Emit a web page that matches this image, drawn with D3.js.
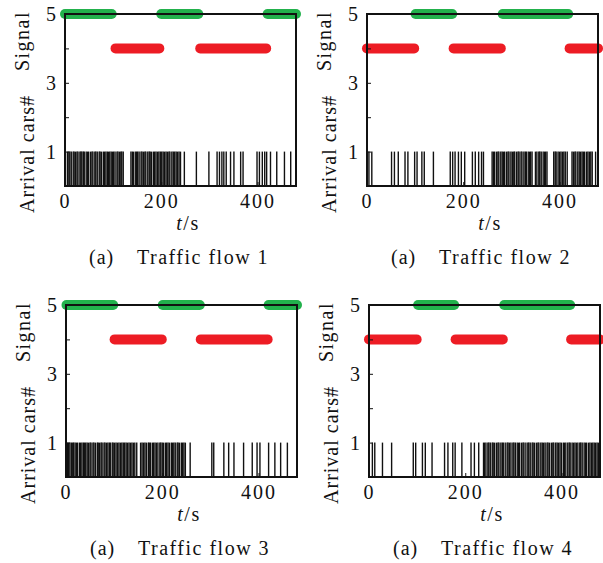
<!DOCTYPE html>
<html lang="en">
<head>
    <meta charset="UTF-8">
    <title>Traffic flow arrivals and signal phases</title>
    <style>
        body { margin: 0; background: #fff; }
        svg text { font-family: "Liberation Serif", "Times New Roman", serif; fill: #111; }
    </style>
</head>
<body>
    <svg id="chart" width="603" height="563"></svg>

    <script src="https://d3js.org/d3.v7.min.js"></script>
    <script>
        // data (time in s)
        const xTicks = [0, 200, 400];
        const yTicks = [1, 2, 3, 4, 5];
        const yTickLabels = [1, 3, 5];
        const titles = ["Traffic flow 1", "Traffic flow 2", "Traffic flow 3", "Traffic flow 4"];

        // signal phases: green drawn at 5, red drawn at 4
        const green1 = [[0, 97], [200, 277], [421, 480]];
        const red1 = [[105, 196], [281, 418]];
        const green2 = [[101, 177], [282, 418]];
        const red2 = [[0, 98], [180, 278], [421, 480]];
        const green3 = [[1, 98], [201, 278], [421, 480]];
        const red3 = [[101, 199], [280, 419]];
        const green4 = [[102, 177], [281, 418]];
        const red4 = [[0, 99], [180, 278], [420, 480]];

        // arrival instants (one car each)
        const arrivals1 = [5, 8, 10, 13, 17, 19, 22, 25, 27, 31, 33, 35, 38, 40, 44, 47, 49, 53, 56, 58, 62, 64, 67, 71, 73, 76, 80, 82, 85, 88, 90, 93, 96, 99, 101, 104, 108, 110, 113, 116, 118, 121,
            137, 140, 142, 146, 149, 151, 154, 158, 160, 163, 166, 168, 172, 175, 177, 180, 184, 186, 189, 192, 195, 198, 201, 204, 207, 210, 213, 216, 218, 222, 225, 228, 231, 234, 237, 240,
            248, 273, 299, 316, 321, 326, 330, 335, 344, 351, 365, 370, 399, 404, 410, 415, 419, 427, 440, 456, 469];
        const arrivals2 = [4, 10, 51, 57, 65, 79, 85, 99, 104, 114, 119, 138, 173, 178, 183, 190, 196, 203, 219, 225, 232, 238, 242,
            260, 263, 265, 269, 272, 274, 278, 281, 284, 286, 290, 293, 295, 299, 302, 305, 307, 311, 314, 316, 320, 322, 326, 329, 331, 335, 338, 340, 343,
            350, 353, 357, 359, 362, 366, 369, 371, 374,
            388, 391, 393, 397, 400, 403, 406, 409, 412, 416,
            426, 429, 432, 434, 438, 441, 444, 447, 450, 452, 456, 459, 462, 465, 468, 475];
        const arrivals3 = [3, 5, 8, 11, 14, 16, 19, 22, 24, 28, 30, 33, 36, 38, 41, 44, 47, 50, 52, 56, 58, 61, 65, 67, 70, 73, 75, 79, 81, 84, 87, 90, 92, 96, 98, 101, 104, 107, 110, 113, 116, 119, 122, 125, 128, 131, 134, 137, 140, 143, 147,
            155, 158, 161, 164, 167, 171, 173, 176, 180, 182, 185, 188, 191, 195, 197, 200, 203, 207, 209, 212, 215, 219, 221, 224, 227, 231, 233, 236, 240, 242, 245, 248,
            258, 303, 307, 328, 338, 349, 369, 387, 397, 403, 421, 434, 446, 460];
        const arrivals4 = [7, 12, 28, 47, 92, 97, 111, 117, 131, 157, 164, 174, 179, 193, 212, 219, 228,
            238, 240, 243, 247, 249, 252, 256, 258, 261, 265, 268, 270, 274, 277, 279, 283, 287, 289, 292, 295, 299, 301, 304, 308, 311, 313, 317, 320, 322, 326, 330, 332, 335, 339, 341, 344, 348, 351, 353, 357,
            360, 363, 366, 370, 372, 375, 379, 382, 384, 388, 391, 394, 397, 400, 404, 406, 409, 413, 416, 418, 422, 425, 428, 431, 434, 438, 440, 443, 447, 450, 452, 456, 459, 462, 465, 468, 471, 474, 477];

        const arrivals = [arrivals1, arrivals2, arrivals3, arrivals4];
        const greens = [green1, green2, green3, green4];
        const reds = [red1, red2, red3, red4];

        // layout of the four plot boxes
        const boxes = [
            {left: 65, top: 14}, {left: 367, top: 14},
            {left: 66, top: 305}, {left: 369, top: 305}
        ];
        const boxW = 231, boxH = 172;
        const green = "#22b14c", red = "#ed1c24";

        const svg = d3.select("#chart");

        boxes.forEach((b, i) => {
            const x = d3.scaleLinear().domain([0, 480]).range([b.left, b.left + boxW]);
            const y = d3.scaleLinear().domain([0, 5]).range([b.top + boxH, b.top]);
            const g = svg.append("g");

            // arrivals
            g.append("g")
             .selectAll("line")
             .data(arrivals[i])
             .join("line")
             .attr("x1", d => x(d)).attr("x2", d => x(d))
             .attr("y1", y(0)).attr("y2", y(1))
             .attr("stroke", "#111")
             .attr("stroke-width", 1.4);

            // signal phases
            const phase = (data, level, color) => {
                g.append("g")
                 .selectAll("line")
                 .data(data)
                 .join("line")
                 .attr("x1", d => x(d[0])).attr("x2", d => x(d[1]))
                 .attr("y1", y(level)).attr("y2", y(level))
                 .attr("stroke", color)
                 .attr("stroke-width", 10)
                 .attr("stroke-linecap", "round");
            };
            phase(greens[i], 5, green);
            phase(reds[i], 4, red);

            // axes
            const ya = g.append("g")
             .attr("transform", `translate(${b.left},0)`)
             .call(d3.axisLeft(y).tickValues(yTicks)
                .tickFormat(d => yTickLabels.includes(d) ? d : "")
                .tickSizeInner(-4).tickSizeOuter(0).tickPadding(7));
            const xa = g.append("g")
             .attr("transform", `translate(0,${b.top + boxH})`)
             .call(d3.axisBottom(x).tickValues(xTicks)
                .tickSizeInner(-4).tickSizeOuter(0).tickPadding(8));
            [ya, xa].forEach(a => {
                a.select(".domain").remove();
                a.selectAll("line").attr("stroke", "#111");
                a.selectAll("text")
                 .attr("font-family", "Liberation Serif")
                 .attr("font-size", 20)
                 .attr("letter-spacing", "2px");
            });

            // frame
            g.append("rect")
             .attr("x", b.left).attr("y", b.top)
             .attr("width", boxW).attr("height", boxH)
             .attr("fill", "none")
             .attr("stroke", "#111")
             .attr("stroke-width", 2);

            // y labels
            g.append("text")
             .attr("transform", `translate(${b.left - 36},${b.top + 27}) rotate(-90)`)
             .attr("text-anchor", "middle")
             .attr("font-size", 20)
             .attr("letter-spacing", "1.5px")
             .text("Signal");
            g.append("text")
             .attr("transform", `translate(${b.left - 31},${b.top + 140}) rotate(-90)`)
             .attr("text-anchor", "middle")
             .attr("font-size", 20)
             .attr("letter-spacing", "1px")
             .text("Arrival cars#");

            // x label
            const xl = g.append("text")
             .attr("x", b.left + 123).attr("y", b.top + 216)
             .attr("text-anchor", "middle")
             .attr("font-size", 20)
             .attr("letter-spacing", "1.5px");
            xl.append("tspan").attr("font-style", "italic").text("t");
            xl.append("tspan").text("/s");

            // caption
            g.append("text")
             .attr("x", b.left + 24).attr("y", b.top + 250)
             .attr("font-size", 20)
             .attr("letter-spacing", "1px")
             .text("(a)");
            g.append("text")
             .attr("x", b.left + 72).attr("y", b.top + 250)
             .attr("font-size", 20)
             .attr("letter-spacing", "1.5px")
             .text(titles[i]);
        });
    </script>
</body>
</html>
